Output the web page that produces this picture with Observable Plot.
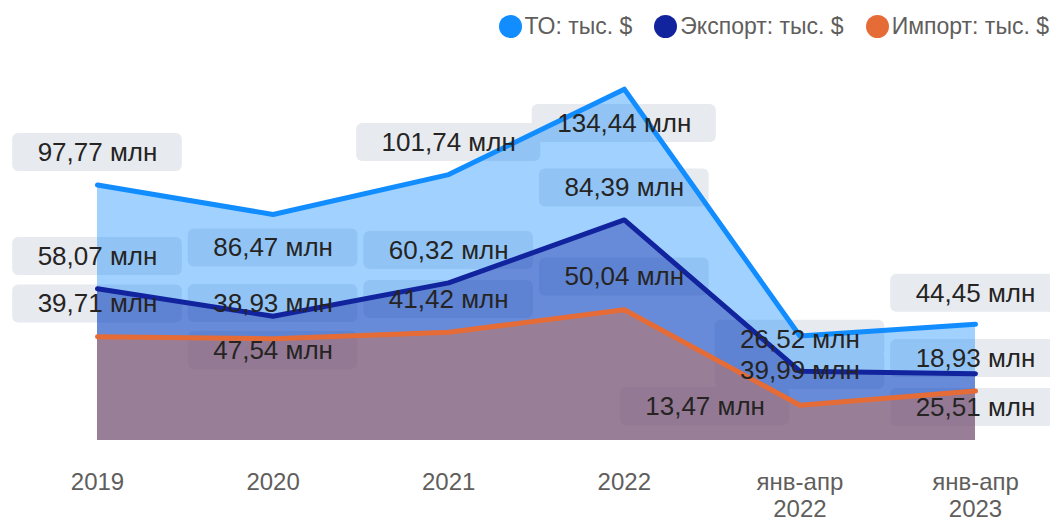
<!DOCTYPE html>
<html>
<head>
<meta charset="utf-8">
<script src="https://cdn.jsdelivr.net/npm/d3@7"></script>
<script src="https://cdn.jsdelivr.net/npm/@observablehq/plot@0.6"></script>
<style>
  html, body { margin: 0; padding: 0; background: #fff; width: 1050px; height: 521px; overflow: hidden; }
  #legend { height: 46px; display: flex; justify-content: flex-end; align-items: center; padding-right: 1px; box-sizing: border-box;
            font-family: "Liberation Sans", Arial, sans-serif; font-size: 23px; color: #605E5C; white-space: nowrap; }
  .item { display: flex; align-items: center; margin-left: 22px; transform: translateY(3px); }
  .sw { width: 23px; height: 23px; border-radius: 50%; margin-right: 3px; }
  #chart svg { display: block; }
</style>
</head>
<body>
<div id="legend"></div>
<div id="chart"></div>
<script>
// ---- data ----
const categories = ["2019", "2020", "2021", "2022", "янв-апр\n2022", "янв-апр\n2023"];
const seriesNames = ["ТО: тыс. $", "Экспорт: тыс. $", "Импорт: тыс. $"];
const seriesColors = ["#118DFF", "#12239E", "#E66C37"];
const totalValues  = [97.77, 86.47, 101.74, 134.44, 39.99, 44.45];
const exportValues = [58.07, 47.54, 60.32, 84.39, 26.52, 25.51];
const importValues = [39.71, 38.93, 41.42, 50.04, 13.47, 18.93];

// data labels as shown (value text, and vertical placement in value units)
const labelTopText = [97.77, 86.47, 101.74, 134.44, 26.52, 44.45];
const labelTopY    = [110.2, 73.7, 114.0, 121.3, 38.7, 56.3];
const labelMidText = [58.07, 38.93, 60.32, 84.39, 39.99, 18.93];
const labelMidY    = [70.4, 52.4, 72.7, 96.6, 26.8, 31.4];
const labelLowText = [39.71, 47.54, 41.42, 50.04, 13.47, 25.51];
const labelLowY    = [52.2, 34.4, 54.0, 62.6, 13.0, 12.6];
const labelLowShift = [0, 0, 0, 0, -0.54, 0];

// ---- build tables ----
const seriesValues = [totalValues, exportValues, importValues];
const rows = [];
seriesValues.forEach((vals, s) => vals.forEach((v, i) => rows.push({i, v, s: seriesNames[s]})));

const fmt = v => v.toFixed(2).replace(".", ",") + " млн";
const labels = [];
categories.forEach((c, i) => {
  labels.push({x: i, y: labelTopY[i], text: fmt(labelTopText[i])});
  labels.push({x: i, y: labelMidY[i], text: fmt(labelMidText[i])});
  labels.push({x: i + labelLowShift[i], y: labelLowY[i], text: fmt(labelLowText[i])});
});

// layout
const W = 1050, H = 475, mL = 97, mR = 75, mT = 2, mB = 81;
const yMax = 150;
const pxX = (W - mL - mR) / (categories.length - 1);
const pxY = (H - mT - mB) / yMax;
const labelFont = '26px "Liberation Sans", Arial, sans-serif';
const ctx = document.createElement("canvas").getContext("2d");
ctx.font = labelFont;
labels.forEach(d => {
  const w = ctx.measureText(d.text).width;
  d.hw = (w / 2 + 25) / pxX;
  d.hh = 19 / pxY;
});

// legend
const legend = document.getElementById("legend");
seriesNames.forEach((n, k) => {
  const it = document.createElement("div");
  it.className = "item";
  it.innerHTML = `<div class="sw" style="background:${seriesColors[k]}"></div><span>${n}</span>`;
  legend.appendChild(it);
});

const color = {domain: seriesNames, range: seriesColors};

const chart = Plot.plot({
  width: W, height: H,
  marginLeft: mL, marginRight: mR, marginTop: mT, marginBottom: mB,
  x: {domain: [0, categories.length - 1], axis: null},
  y: {domain: [0, yMax], axis: null},
  color,
  style: {fontFamily: '"Liberation Sans", Arial, sans-serif', background: "#fff"},
  marks: [
    Plot.rect(labels, {x1: d => d.x - d.hw, x2: d => d.x + d.hw, y1: d => d.y - d.hh, y2: d => d.y + d.hh,
                       fill: "#E7EAEF", rx: 6}),
    Plot.area(rows, {x1: "i", y1: 0, y2: "v", z: "s", fill: "s", fillOpacity: 0.4}),
    Plot.line(rows, {x: "i", y: "v", z: "s", stroke: "s", strokeWidth: 5, strokeLinecap: "round", strokeLinejoin: "round"}),
    Plot.text(labels, {x: "x", y: "y", text: "text", fill: "#252423", fontSize: 26,
                       fontFamily: '"Liberation Sans", Arial, sans-serif'}),
    Plot.axisX({ticks: d3.range(categories.length), tickFormat: i => categories[i], tickSize: 0, tickPadding: 31,
                fontSize: 24, lineHeight: 1.1, color: "#605E5C",
                fontFamily: '"Liberation Sans", Arial, sans-serif'})
  ]
});
document.getElementById("chart").appendChild(chart);
</script>
</body>
</html>
